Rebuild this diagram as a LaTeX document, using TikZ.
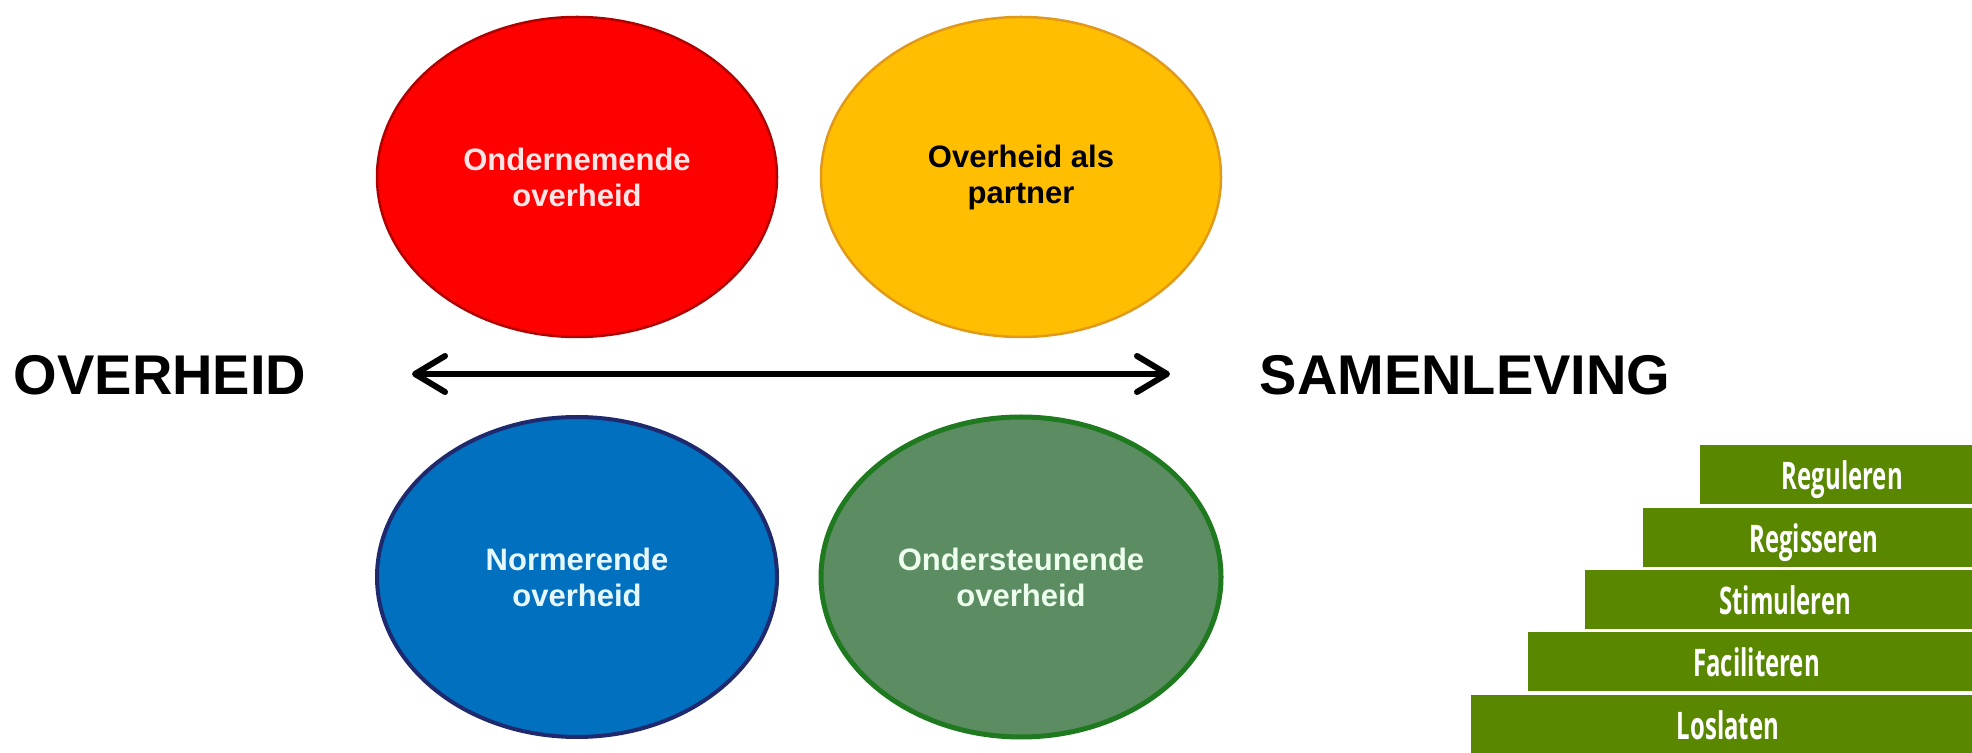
\documentclass[tikz,border=0pt]{standalone}
\usepackage{fontspec}
\usepackage{tikz}
\usetikzlibrary{arrows.meta,shapes.geometric}
\newfontfamily\arialfont{Liberation Sans}
\newfontfamily\stepfont[FakeStretch=0.63]{Open Sans}
\definecolor{ffqqqq}{rgb}{1,0,0}
\definecolor{bqqqqq}{rgb}{0.69,0,0}
\definecolor{ffcqqq}{rgb}{1,0.75,0}
\definecolor{eq9a1a}{rgb}{0.88,0.6,0.1}
\definecolor{qq7qcq}{rgb}{0,0.44,0.75}
\definecolor{1f2a6e}{rgb}{0.12,0.16,0.43}
\definecolor{5b8c62}{rgb}{0.36,0.55,0.38}
\definecolor{1e7b1e}{rgb}{0.12,0.48,0.12}
\definecolor{5a87qq}{rgb}{0.35,0.53,0}
\definecolor{ffe6e6}{rgb}{1,0.9,0.9}
\definecolor{e6f6ff}{rgb}{0.9,0.97,1}
\definecolor{eeffee}{rgb}{0.93,1,0.93}

\begin{document}
\begin{tikzpicture}[line cap=round,line join=round,>={Straight Barb[length=30pt,width=36pt,round]},x=1.0pt,y=1.0pt,
    blob/.style={ellipse,minimum width=400pt,minimum height=320pt,inner sep=0pt,align=center,font=\arialfont\bfseries\fontsize{31}{36}\selectfont},
    side/.style={inner sep=0pt,font=\arialfont\bfseries\fontsize{56}{60}\selectfont},
    trede/.style={fill=5a87qq,text=white,minimum height=59pt,inner sep=0pt,text height=30pt,text depth=0pt,font=\stepfont\bfseries\fontsize{38}{40}\selectfont}]
    \useasboundingbox (0,0) rectangle (1972,752);
    \clip (0,0) rectangle (1972,752);
    % vier overheidsrollen
    \node[blob,fill=ffqqqq,draw=bqqqqq,line width=2.5pt,text=ffe6e6] (ondernemend) at (577,575) {Ondernemende\\overheid};
    \node[blob,fill=ffcqqq,draw=eq9a1a,line width=2.5pt,text=black] (partner) at (1021,575) {Overheid als\\partner};
    \node[blob,fill=qq7qcq,draw=1f2a6e,line width=4pt,text=e6f6ff] (normerend) at (577,175) {Normerende\\overheid};
    \node[blob,fill=5b8c62,draw=1e7b1e,line width=5pt,text=eeffee] (ondersteunend) at (1021,175) {Ondersteunende\\overheid};
    % as
    \node[side] (overheid) at (160,377) {OVERHEID};
    \node[side] (samenleving) at (1465,377) {SAMENLEVING};
    \coordinate (links) at (412,378);
    \coordinate (rechts) at (1170,378);
    \draw[<->,line width=6pt] (links) -- (rechts);
    % trap
    \foreach \naam [count=\i from 0] in {Reguleren,Regisseren,Stimuleren,Faciliteren,Loslaten}
    \node[trede,anchor=east,minimum width={285+57.2*\i}] (trede\i) at (1985,{277-62.3*\i}) {\naam};
\end{tikzpicture}
\end{document}
